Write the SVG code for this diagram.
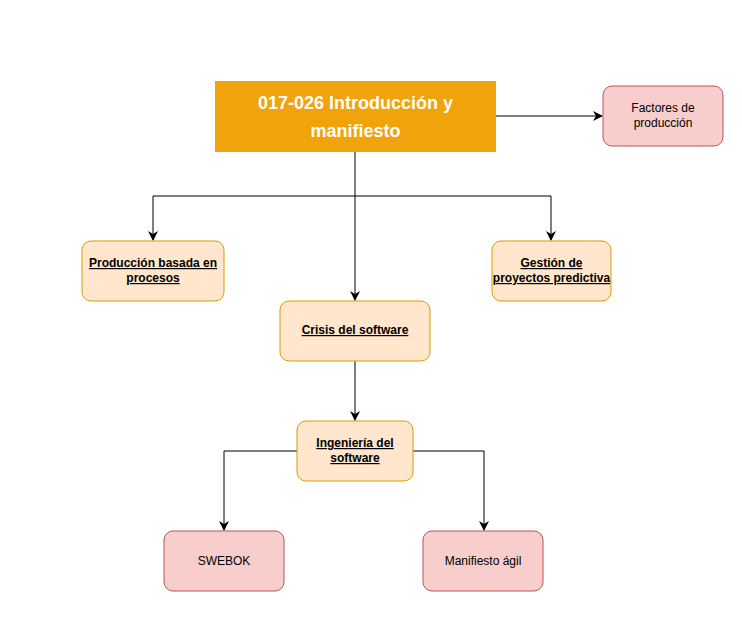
<svg xmlns="http://www.w3.org/2000/svg" width="742" height="625" viewBox="0 0 742 625">
<style>
.t{font-family:"Liberation Sans",Arial,sans-serif;font-size:12px;fill:#000;text-anchor:middle}
.b{font-weight:bold;text-decoration:underline}
.o{fill:#ffe6cc;stroke:#d79b00;stroke-width:1}
.r{fill:#f8cecc;stroke:#b85450;stroke-width:1}
.c{fill:none;stroke:#000;stroke-width:1}
</style>
<defs>
<marker id="a" viewBox="0 0 10 10" refX="9" refY="5" markerWidth="10" markerHeight="10" markerUnits="userSpaceOnUse" orient="auto">
<path d="M0,0 L10,5 L0,10 L3,5 Z" fill="#000"/>
</marker>
</defs>
<rect width="742" height="625" fill="#fff"/>
<g id="connectors">
<path class="c" d="M496,116 H602" marker-end="url(#a)"/>
<path class="c" d="M355,152 V300" marker-end="url(#a)"/>
<path class="c" d="M355,196 H153 V240" marker-end="url(#a)"/>
<path class="c" d="M355,196 H551 V240" marker-end="url(#a)"/>
<path class="c" d="M355,361 V420" marker-end="url(#a)"/>
<path class="c" d="M297,451 H224 V530" marker-end="url(#a)"/>
<path class="c" d="M413,451 H484 V530" marker-end="url(#a)"/>
</g>
<g id="title">
<rect x="215" y="81" width="281" height="71" fill="#f0a30a"/>
<text x="355.5" y="109" font-family="'Liberation Sans',Arial,sans-serif" font-size="18" font-weight="bold" fill="#fff" text-anchor="middle">017-026 Introducción y</text>
<text x="355.5" y="137" font-family="'Liberation Sans',Arial,sans-serif" font-size="18" font-weight="bold" fill="#fff" text-anchor="middle">manifiesto</text>
</g>
<g id="factores">
<rect class="r" x="603" y="86" width="120" height="60" rx="9"/>
<text class="t" x="663" y="112">Factores de</text>
<text class="t" x="663" y="127">producción</text>
</g>
<g id="produccion">
<rect class="o" x="82" y="241" width="142" height="60" rx="9"/>
<text class="t b" x="153" y="267">Producción basada en</text>
<text class="t b" x="153" y="282">procesos</text>
</g>
<g id="gestion">
<rect class="o" x="492" y="241" width="119" height="60" rx="9"/>
<text class="t b" x="551.5" y="267">Gestión de</text>
<text class="t b" x="551.5" y="282">proyectos predictiva</text>
</g>
<g id="crisis">
<rect class="o" x="280" y="301" width="150" height="60" rx="9"/>
<text class="t b" x="355" y="334">Crisis del software</text>
</g>
<g id="ingenieria">
<rect class="o" x="297" y="421" width="116" height="60" rx="9"/>
<text class="t b" x="355" y="447">Ingeniería del</text>
<text class="t b" x="355" y="462">software</text>
</g>
<g id="swebok">
<rect class="r" x="164" y="531" width="120" height="60" rx="9"/>
<text class="t" x="224" y="565">SWEBOK</text>
</g>
<g id="manifiesto">
<rect class="r" x="423" y="531" width="120" height="60" rx="9"/>
<text class="t" x="483" y="565">Manifiesto ágil</text>
</g>
</svg>
